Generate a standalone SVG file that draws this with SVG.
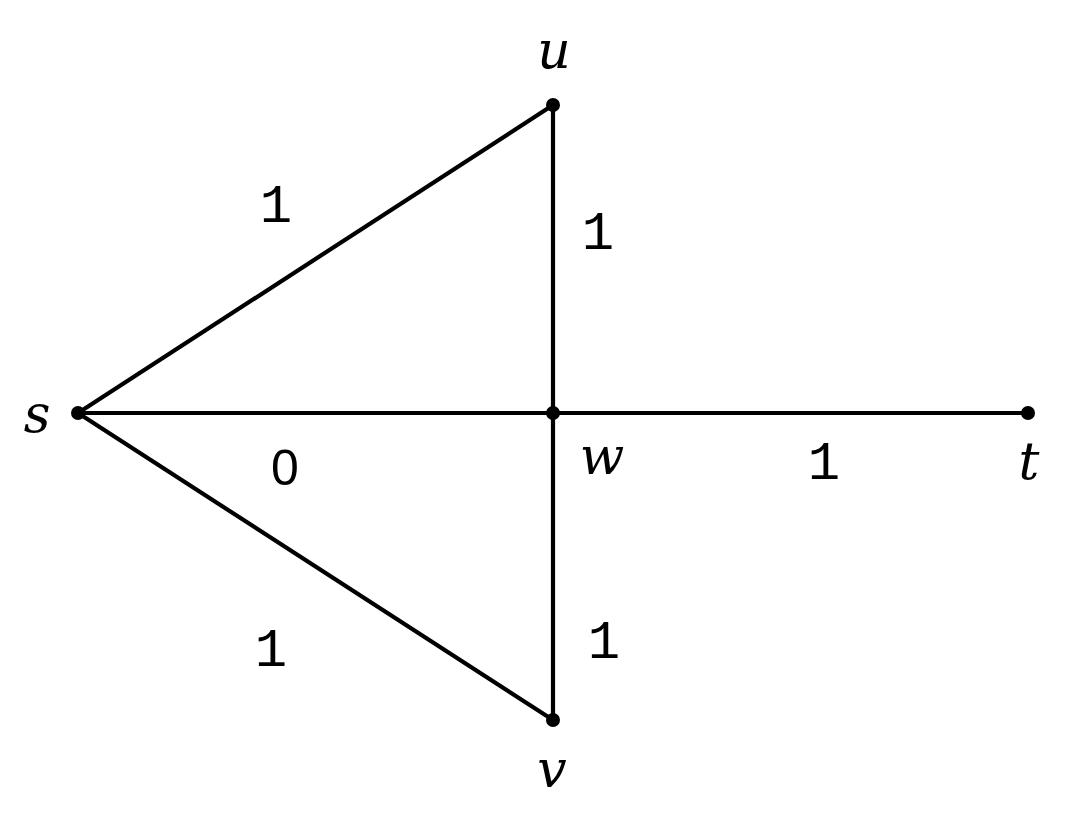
<svg xmlns="http://www.w3.org/2000/svg" width="1065" height="816" viewBox="0 0 1065 816">
<style>
.e{stroke:#000;stroke-width:4.2;fill:none;stroke-linecap:round}
.n{fill:#000}
.v{font-family:"DejaVu Serif","Liberation Serif",serif;font-style:italic;font-size:52px;text-anchor:middle;fill:#000}
.w{font-family:"Liberation Mono","DejaVu Sans Mono",monospace;font-size:54px;text-anchor:middle;fill:#000}
.z{font-family:"Liberation Sans","Noto Sans",sans-serif;font-size:50px;text-anchor:middle;fill:#000;font-weight:300}
</style>
<rect width="1065" height="816" fill="#fff"/>
<g id="edges">
<line class="e" x1="78" y1="413" x2="553" y2="105"/>
<line class="e" x1="78" y1="413" x2="553" y2="720"/>
<line class="e" x1="78" y1="413" x2="1028" y2="413"/>
<line class="e" x1="553" y1="105" x2="553" y2="720"/>
<text class="w" x="276" y="222">1</text>
<text class="w" x="598" y="249">1</text>
<text class="z" x="285" y="485">0</text>
<text class="w" x="824" y="479">1</text>
<text class="w" x="271" y="666">1</text>
<text class="w" x="604" y="658">1</text>
</g>
<g id="s"><circle class="n" cx="78" cy="413" r="7"/><text class="v" x="37" y="432">s</text></g>
<g id="u"><circle class="n" cx="553" cy="105" r="7"/><text class="v" x="554" y="68">u</text></g>
<g id="w"><circle class="n" cx="553" cy="413" r="7"/><text class="v" x="602" y="474">w</text></g>
<g id="t"><circle class="n" cx="1028" cy="413" r="7"/><text class="v" x="1029" y="479">t</text></g>
<g id="v"><circle class="n" cx="553" cy="720" r="7"/><text class="v" x="552" y="787">v</text></g>
</svg>
